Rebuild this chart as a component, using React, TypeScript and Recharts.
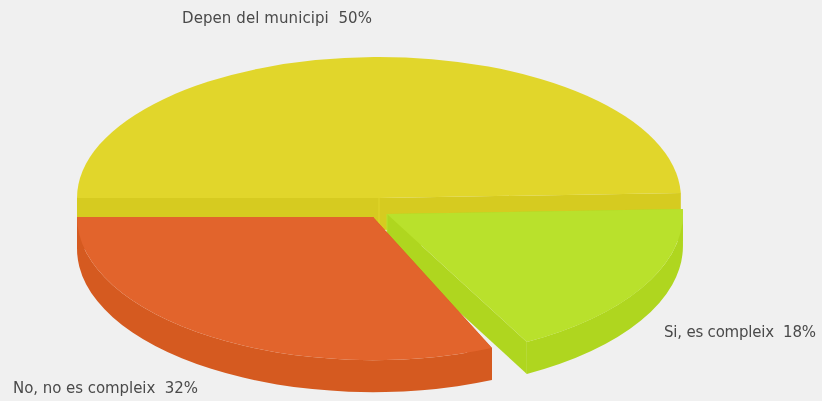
import { PieChart, Pie, Cell } from 'recharts';

// ── Data ──────────────────────────────────────────────────────────────────

const NAMES = ['Depen del municipi', 'Si, es compleix', 'No, no es compleix'];
const VALUES = [50, 18, 32];

const rows = NAMES.map((name, i) => ({ name, value: VALUES[i] }));

// ── Look of each slice ────────────────────────────────────────────────────

const TOP_COLORS = ['#e1d62b', '#b9e12c', '#e2642c'];
const WALL_COLORS = ['#d6cb20', '#afd61f', '#d55a20'];
const DEPTH = 32;
const TILT = 0.467; // ellipse height / width

// exploded slices sit a little off the pie centre, with hand-tuned edges
const SLICE_FIT = [
  { dx: 0, dy: 0, scaleX: 1, scaleY: 1, startNudge: 0, endNudge: 2 },
  { dx: 8, dy: 16, scaleX: 0.98, scaleY: 1.03, startNudge: 2, endNudge: 3 },
  { dx: -6, dy: 19, scaleX: 0.98, scaleY: 1.015, startNudge: -1.5, endNudge: 0 },
];

const LABEL_SPOTS = [
  { x: 182, y: 23, width: 190 },
  { x: 664, y: 337, width: 152 },
  { x: 13, y: 393, width: 185 },
];

// ── Pseudo-3D slice ───────────────────────────────────────────────────────

function Slice3D(props: any) {
  const { cx, cy, outerRadius, startAngle, endAngle, index } = props;
  const fit = SLICE_FIT[index];
  const x0 = cx + fit.dx;
  const y0 = cy + fit.dy;
  const rx = outerRadius * fit.scaleX;
  const ry = outerRadius * TILT * fit.scaleY;
  const at = (deg: number, down = 0) => {
    const a = (deg * Math.PI) / 180;
    return `${x0 + rx * Math.cos(a)} ${y0 - ry * Math.sin(a) + down}`;
  };
  const from = startAngle + fit.startNudge;
  const to = endAngle + fit.endNudge;
  const large = Math.abs(from - to) > 180 ? 1 : 0;

  const top = `M${x0} ${y0} L${at(from)} A${rx} ${ry} 0 ${large} 1 ${at(to)} Z`;
  const face = (deg: number) =>
    `M${x0} ${y0} L${at(deg)} L${at(deg, DEPTH)} L${x0} ${y0 + DEPTH} Z`;

  // outer wall only where the rim faces the viewer (angles below the horizon)
  const wallFrom = Math.min(from, 0);
  const wallTo = Math.max(to, -180);
  const hasWall = wallFrom > wallTo;
  const wall = `M${at(wallFrom)} A${rx} ${ry} 0 0 1 ${at(wallTo)} L${at(wallTo, DEPTH)} A${rx} ${ry} 0 0 0 ${at(wallFrom, DEPTH)} Z`;

  return (
    <g>
      <path d={face(from)} fill={WALL_COLORS[index]} />
      <path d={face(to)} fill={WALL_COLORS[index]} />
      <line x1={x0} y1={y0} x2={x0} y2={y0 + DEPTH} stroke={TOP_COLORS[index]} strokeWidth={1} />
      {hasWall && <path d={wall} fill={WALL_COLORS[index]} />}
      <path d={top} fill={TOP_COLORS[index]} />
    </g>
  );
}

function SliceLabel({ index, name, value }: any) {
  const spot = LABEL_SPOTS[index];
  return (
    <text
      x={spot.x}
      y={spot.y}
      textLength={spot.width}
      lengthAdjust="spacing"
      fill="#4a4a4a"
      fontSize={15}
      fontFamily="'DejaVu Sans', sans-serif"
      style={{ whiteSpace: 'pre', filter: 'blur(0.4px)' }}
    >
      {`${name}  ${value}%`}
    </text>
  );
}

// ── Chart ─────────────────────────────────────────────────────────────────

export default function App() {
  return (
    <div style={{ position: 'absolute', left: 0, top: 0, width: 822, height: 401, background: '#f0f0f0', overflow: 'hidden' }}>
      <PieChart width={822} height={401} margin={{ top: 0, right: 0, bottom: 0, left: 0 }}>
        <Pie
          data={rows}
          dataKey="value"
          nameKey="name"
          cx={379}
          cy={198}
          innerRadius={0}
          outerRadius={302}
          startAngle={180}
          endAngle={-180}
          stroke="none"
          shape={Slice3D}
          label={SliceLabel as any}
          labelLine={false}
          isAnimationActive={false}
        >
          {rows.map((_, i) => <Cell key={i} fill={TOP_COLORS[i]} />)}
        </Pie>
      </PieChart>
    </div>
  );
}
